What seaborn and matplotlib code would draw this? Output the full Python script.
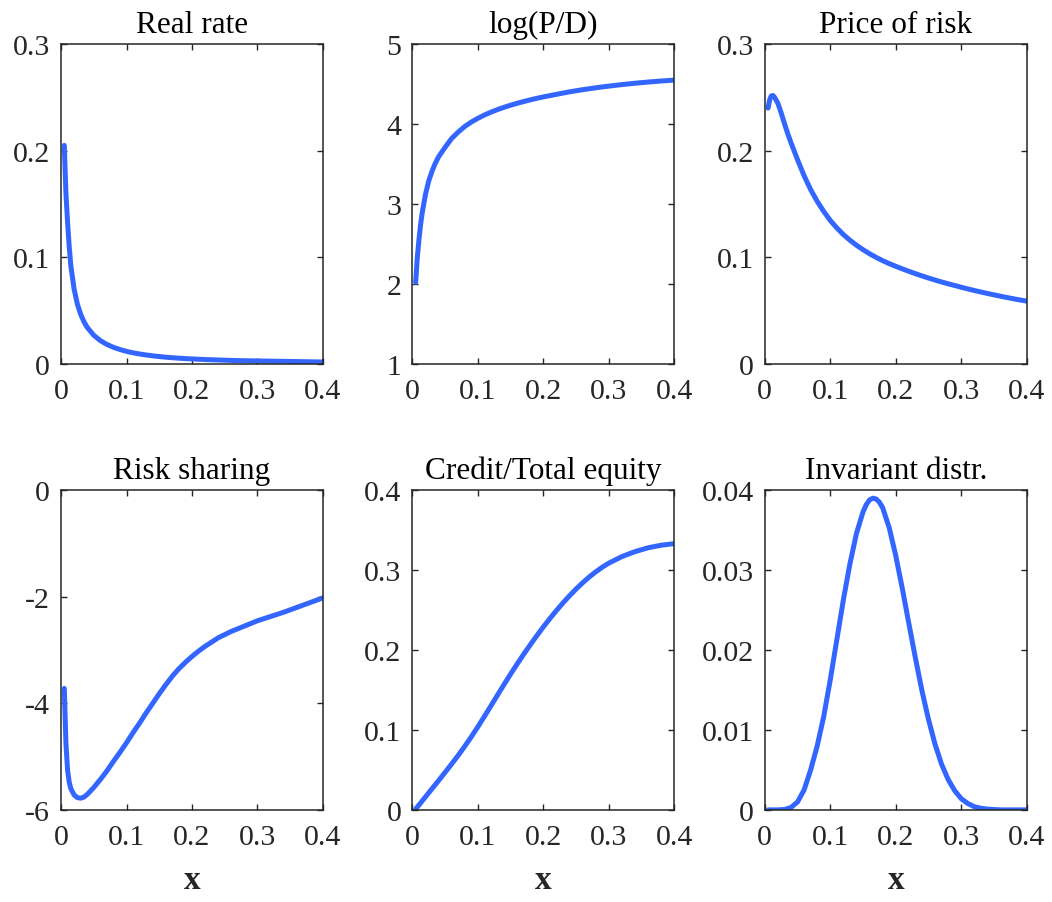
import matplotlib
matplotlib.use("Agg")
import matplotlib.pyplot as plt
from matplotlib.ticker import FuncFormatter, MultipleLocator
import pandas as pd
import seaborn as sns

# State variable grid
x = [0.005, 0.0075, 0.01, 0.0125, 0.015, 0.02, 0.025, 0.03, 0.035, 0.04,
     0.05, 0.06, 0.07, 0.08, 0.09, 0.10, 0.11, 0.12, 0.13, 0.14, 0.15,
     0.16, 0.17, 0.18, 0.19, 0.20, 0.21, 0.22, 0.23, 0.24, 0.25, 0.26,
     0.27, 0.28, 0.29, 0.30, 0.32, 0.34, 0.36, 0.38, 0.40]

real_rate = [0.205, 0.160, 0.133, 0.110, 0.092, 0.070, 0.056, 0.0465, 0.0395, 0.0342,
             0.0268, 0.0218, 0.0182, 0.0155, 0.0134, 0.0117, 0.0103, 0.0092, 0.0083,
             0.0075, 0.0068, 0.0062, 0.0057, 0.0053, 0.0049, 0.0046, 0.0043,
             0.0040, 0.0038, 0.0036, 0.0034, 0.0032, 0.0030, 0.0029, 0.0028,
             0.0027, 0.0025, 0.0023, 0.0021, 0.0019, 0.0017]

log_pd = [2.02, 2.33, 2.55, 2.74, 2.89, 3.12, 3.29, 3.41, 3.51, 3.59,
          3.71, 3.82, 3.90, 3.97, 4.025, 4.072, 4.113, 4.149, 4.181, 4.210, 4.236,
          4.260, 4.282, 4.303, 4.322, 4.340, 4.356, 4.372, 4.388, 4.403, 4.417,
          4.430, 4.442, 4.454, 4.465, 4.475, 4.494, 4.511, 4.526, 4.539, 4.550]

price_of_risk = [0.240, 0.248, 0.2515, 0.2518, 0.2500, 0.2445, 0.2355, 0.2255, 0.2160,
                 0.2075, 0.1915, 0.1765, 0.1635, 0.1525, 0.1430, 0.1345, 0.1275,
                 0.1213, 0.1160, 0.1113, 0.1071, 0.1033, 0.0999, 0.0968, 0.0940,
                 0.0915, 0.0891, 0.0868, 0.0846, 0.0825, 0.0805, 0.0786, 0.0768,
                 0.0751, 0.0735, 0.0718, 0.0688, 0.0660, 0.0634, 0.0610, 0.0588]

risk_sharing = [-3.72, -4.75, -5.25, -5.48, -5.60, -5.72, -5.77, -5.78, -5.76, -5.71,
                -5.58, -5.43, -5.27, -5.09, -4.92, -4.74, -4.55, -4.37, -4.18,
                -4.00, -3.82, -3.65, -3.49, -3.35, -3.23, -3.12, -3.02, -2.93,
                -2.85, -2.77, -2.71, -2.65, -2.60, -2.55, -2.50, -2.45, -2.37,
                -2.29, -2.20, -2.11, -2.02]

credit_equity = [0.001, 0.0035, 0.0061, 0.0086, 0.0112, 0.0163, 0.0214, 0.0265, 0.0316,
                 0.0367, 0.0470, 0.0575, 0.0683, 0.0796, 0.0915, 0.1040, 0.1170,
                 0.1303, 0.1437, 0.1570, 0.1700, 0.1826, 0.1948, 0.2066, 0.2180,
                 0.2290, 0.2395, 0.2495, 0.2590, 0.2680, 0.2764, 0.2842, 0.2914,
                 0.2979, 0.3037, 0.3088, 0.3170, 0.3232, 0.3280, 0.3312, 0.3332]

# Stationary density on its own grid (finer near the mode)
x_dist = [0.005, 0.02, 0.03, 0.04, 0.05, 0.06, 0.07, 0.08, 0.09, 0.10, 0.11,
          0.12, 0.13, 0.14, 0.15, 0.155, 0.16, 0.165, 0.17, 0.175, 0.18, 0.19,
          0.20, 0.21, 0.22, 0.23, 0.24, 0.25, 0.26, 0.27, 0.28, 0.29, 0.30,
          0.31, 0.32, 0.33, 0.34, 0.36, 0.40]
invariant = [0.0, 0.0, 0.00005, 0.0003, 0.0010, 0.0025, 0.0050, 0.0080, 0.0117,
             0.0163, 0.0213, 0.0263, 0.0308, 0.0346, 0.0373, 0.0382, 0.0388,
             0.0390, 0.0389, 0.0385, 0.0378, 0.0353, 0.0318, 0.0277, 0.0233,
             0.0190, 0.0149, 0.0113, 0.0082, 0.0057, 0.0038, 0.0024, 0.0014,
             0.0008, 0.0004, 0.0002, 0.0001, 0.0, 0.0]

titles = ["Real rate", "log(P/D)", "Price of risk",
          "Risk sharing", "Credit/Total equity", "Invariant distr."]
panels = [(x, real_rate), (x, log_pd), (x, price_of_risk),
          (x, risk_sharing), (x, credit_equity), (x_dist, invariant)]
y_limits = [(0, 0.3), (1, 5), (0, 0.3), (-6, 0), (0, 0.4), (0, 0.04)]
y_steps = [0.1, 1, 0.1, 2, 0.1, 0.01]
x_ticks = [0, 0.1, 0.2, 0.3, 0.4]

sns.set_theme(style="ticks")
plt.rcParams["font.family"] = ["Liberation Serif", "DejaVu Serif"]
plt.rcParams["axes.unicode_minus"] = False

line_color = "#3366FF"
frame_color = "#262626"

fig = plt.figure(figsize=(10.52, 9.03), dpi=100)
lefts = [0.058, 0.392, 0.727]
bottoms = [0.596, 0.102]
width, height = 0.249, 0.354

fmt = FuncFormatter(lambda v, p: f"{round(v, 6):g}")

for i, (title, (xs, vals)) in enumerate(zip(titles, panels)):
    r, c = divmod(i, 3)
    ax = fig.add_axes([lefts[c], bottoms[r], width, height])
    df = pd.DataFrame({"x": xs, "y": vals})
    sns.lineplot(data=df, x="x", y="y", ax=ax, color=line_color,
                 linewidth=3.6, sort=False, estimator=None)
    ax.set_xlim(0, 0.4)
    ax.set_ylim(*y_limits[i])
    ax.set_xticks(x_ticks)
    ax.yaxis.set_major_locator(MultipleLocator(y_steps[i]))
    ax.xaxis.set_major_formatter(fmt)
    ax.yaxis.set_major_formatter(fmt)
    ax.set_title(title, fontsize=22.5, color="black", pad=9)
    ax.set_ylabel("")
    if r == 1:
        ax.set_xlabel("x", fontsize=24, fontweight="bold", color=frame_color, labelpad=10)
    else:
        ax.set_xlabel("")
    for s in ax.spines.values():
        s.set_visible(True)
        s.set_color(frame_color)
        s.set_linewidth(1.1)
    ax.tick_params(direction="in", length=4, width=1.0, top=True, right=True,
                   labelsize=21.5, colors=frame_color)
    ax.tick_params(axis="x", pad=10)
    ax.tick_params(axis="y", pad=8)

fig.savefig("out.png", dpi=100, facecolor="white")
